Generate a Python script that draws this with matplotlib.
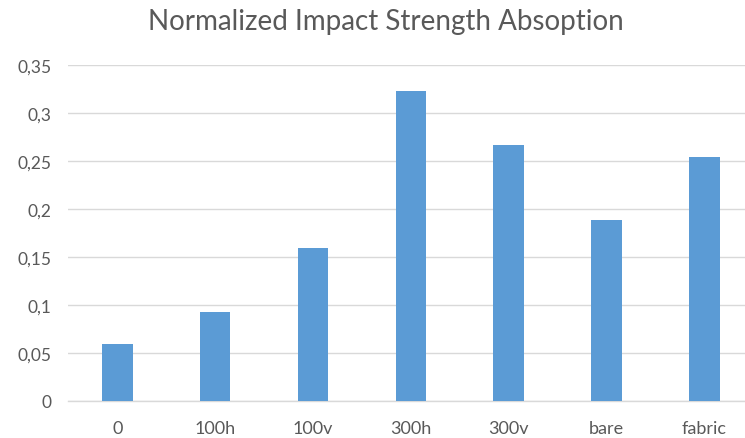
import matplotlib
matplotlib.use("Agg")
import matplotlib.pyplot as plt
from matplotlib.ticker import FuncFormatter

categories = ["0", "100h", "100v", "300h", "300v", "bare", "fabric"]
values = [0.059, 0.092, 0.159, 0.323, 0.266, 0.188, 0.254]
y_ticks = [0, 0.05, 0.1, 0.15, 0.2, 0.25, 0.3, 0.35]

plt.rcParams["font.family"] = ["Lato", "DejaVu Sans"]

fig = plt.figure(figsize=(7.45, 4.39), dpi=100)
ax = fig.add_axes([0.0917, 0.085, 0.9083, 0.765])

x = range(len(categories))
ax.bar(x, values, width=0.313, color="#5b9bd5", zorder=3)

ax.set_xlim(-0.5, 6.415)
ax.set_ylim(0, 0.35)
ax.set_yticks(y_ticks)
ax.yaxis.set_major_formatter(FuncFormatter(lambda v, p: ("%g" % round(v, 2)).replace(".", ",")))
ax.set_xticks(list(x))
ax.set_xticklabels(categories)

ax.grid(axis="y", color="#d9d9d9", linewidth=1.0, zorder=0)
for s in ["top", "right", "left"]:
    ax.spines[s].set_visible(False)
ax.spines["bottom"].set_color("#d9d9d9")
ax.spines["bottom"].set_linewidth(1.0)
ax.tick_params(axis="both", length=0, labelcolor="#595959")
ax.tick_params(axis="y", pad=12, labelsize=12.5)
ax.tick_params(axis="x", pad=14, labelsize=13)

fig.text(386 / 745, 1 - 22 / 439, "Normalized Impact Strength Absoption",
         ha="center", va="center", fontsize=20, color="#595959")

fig.savefig("out.png", dpi=100)
